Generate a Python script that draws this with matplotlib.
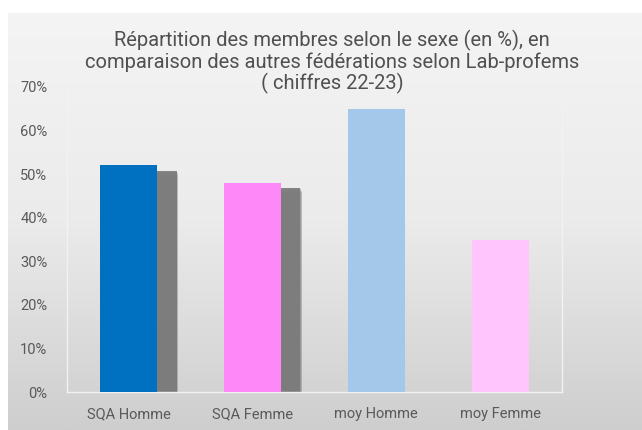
import matplotlib.pyplot as plt
import numpy as np

categories = ['SQA Homme', 'SQA Femme', 'moy Homme', 'moy Femme']
values = [0.52, 0.48, 0.65, 0.35]
colors = ['#0070c0', '#ff88f8', '#a3c8ea', '#ffc5fc']
has_shadow = [True, True, False, False]
yticks = [0, 0.1, 0.2, 0.3, 0.4, 0.5, 0.6, 0.7]
title = ('Répartition des membres selon le sexe (en %), en\n'
         'comparaison des autres fédérations selon Lab-profems\n'
         '( chiffres 22-23)')

plt.rcParams['font.family'] = ['Roboto', 'DejaVu Sans']
fig = plt.figure(figsize=(6.42, 4.30), dpi=100)
fig.patch.set_facecolor('white')

# fond en dégradé de la zone du graphique
bg = fig.add_axes([8/642, 0, 634/642, 417/430], zorder=0)
grad = np.linspace(0, 1, 256).reshape(-1, 1)
bg.imshow(grad, aspect='auto', cmap=plt.matplotlib.colors.LinearSegmentedColormap.from_list(
    'g', ['#f4f4f4', '#ebebeb', '#cecece']), extent=[0, 1, 0, 1])
bg.axis('off')

ax = fig.add_axes([67/642, 38/430, 495/642, 305/430], zorder=1)
ax.patch.set_alpha(0)
x = np.arange(len(categories))
w = 0.46

# ombres floues derrière les barres SQA
for i, v in enumerate(values):
    if has_shadow[i]:
        for k, a in enumerate([0.2, 0.3, 0.45, 0.9]):
            grow = (3 - k) * 0.01
            ax.bar(x[i] + 0.155, v - 0.012 - grow * 0.3, width=w + grow, color='#7a7a7a',
                   alpha=a, linewidth=0, zorder=2)

ax.bar(x, values, width=w, color=colors, linewidth=0, zorder=3)

ax.set_xlim(-0.5, len(categories) - 0.5)
ax.set_ylim(0, 0.7)
ax.set_yticks(yticks)
ax.set_yticklabels(['%d%%' % round(t * 100) for t in yticks])
ax.set_xticks(x)
ax.set_xticklabels(categories)
ax.tick_params(length=0, labelsize=10.5, colors='#595959')
ax.tick_params(axis='y', pad=14)
ax.tick_params(axis='x', pad=11)
for s in ax.spines.values():
    s.set_color('#f2f2f2')
    s.set_linewidth(1)
ax.spines['top'].set_visible(False)

fig.text(332/642, 1 - 62/430, title, ha='center', va='center', fontsize=14.5,
         color='#505050', linespacing=1.1)

plt.savefig('out.png', dpi=100)
